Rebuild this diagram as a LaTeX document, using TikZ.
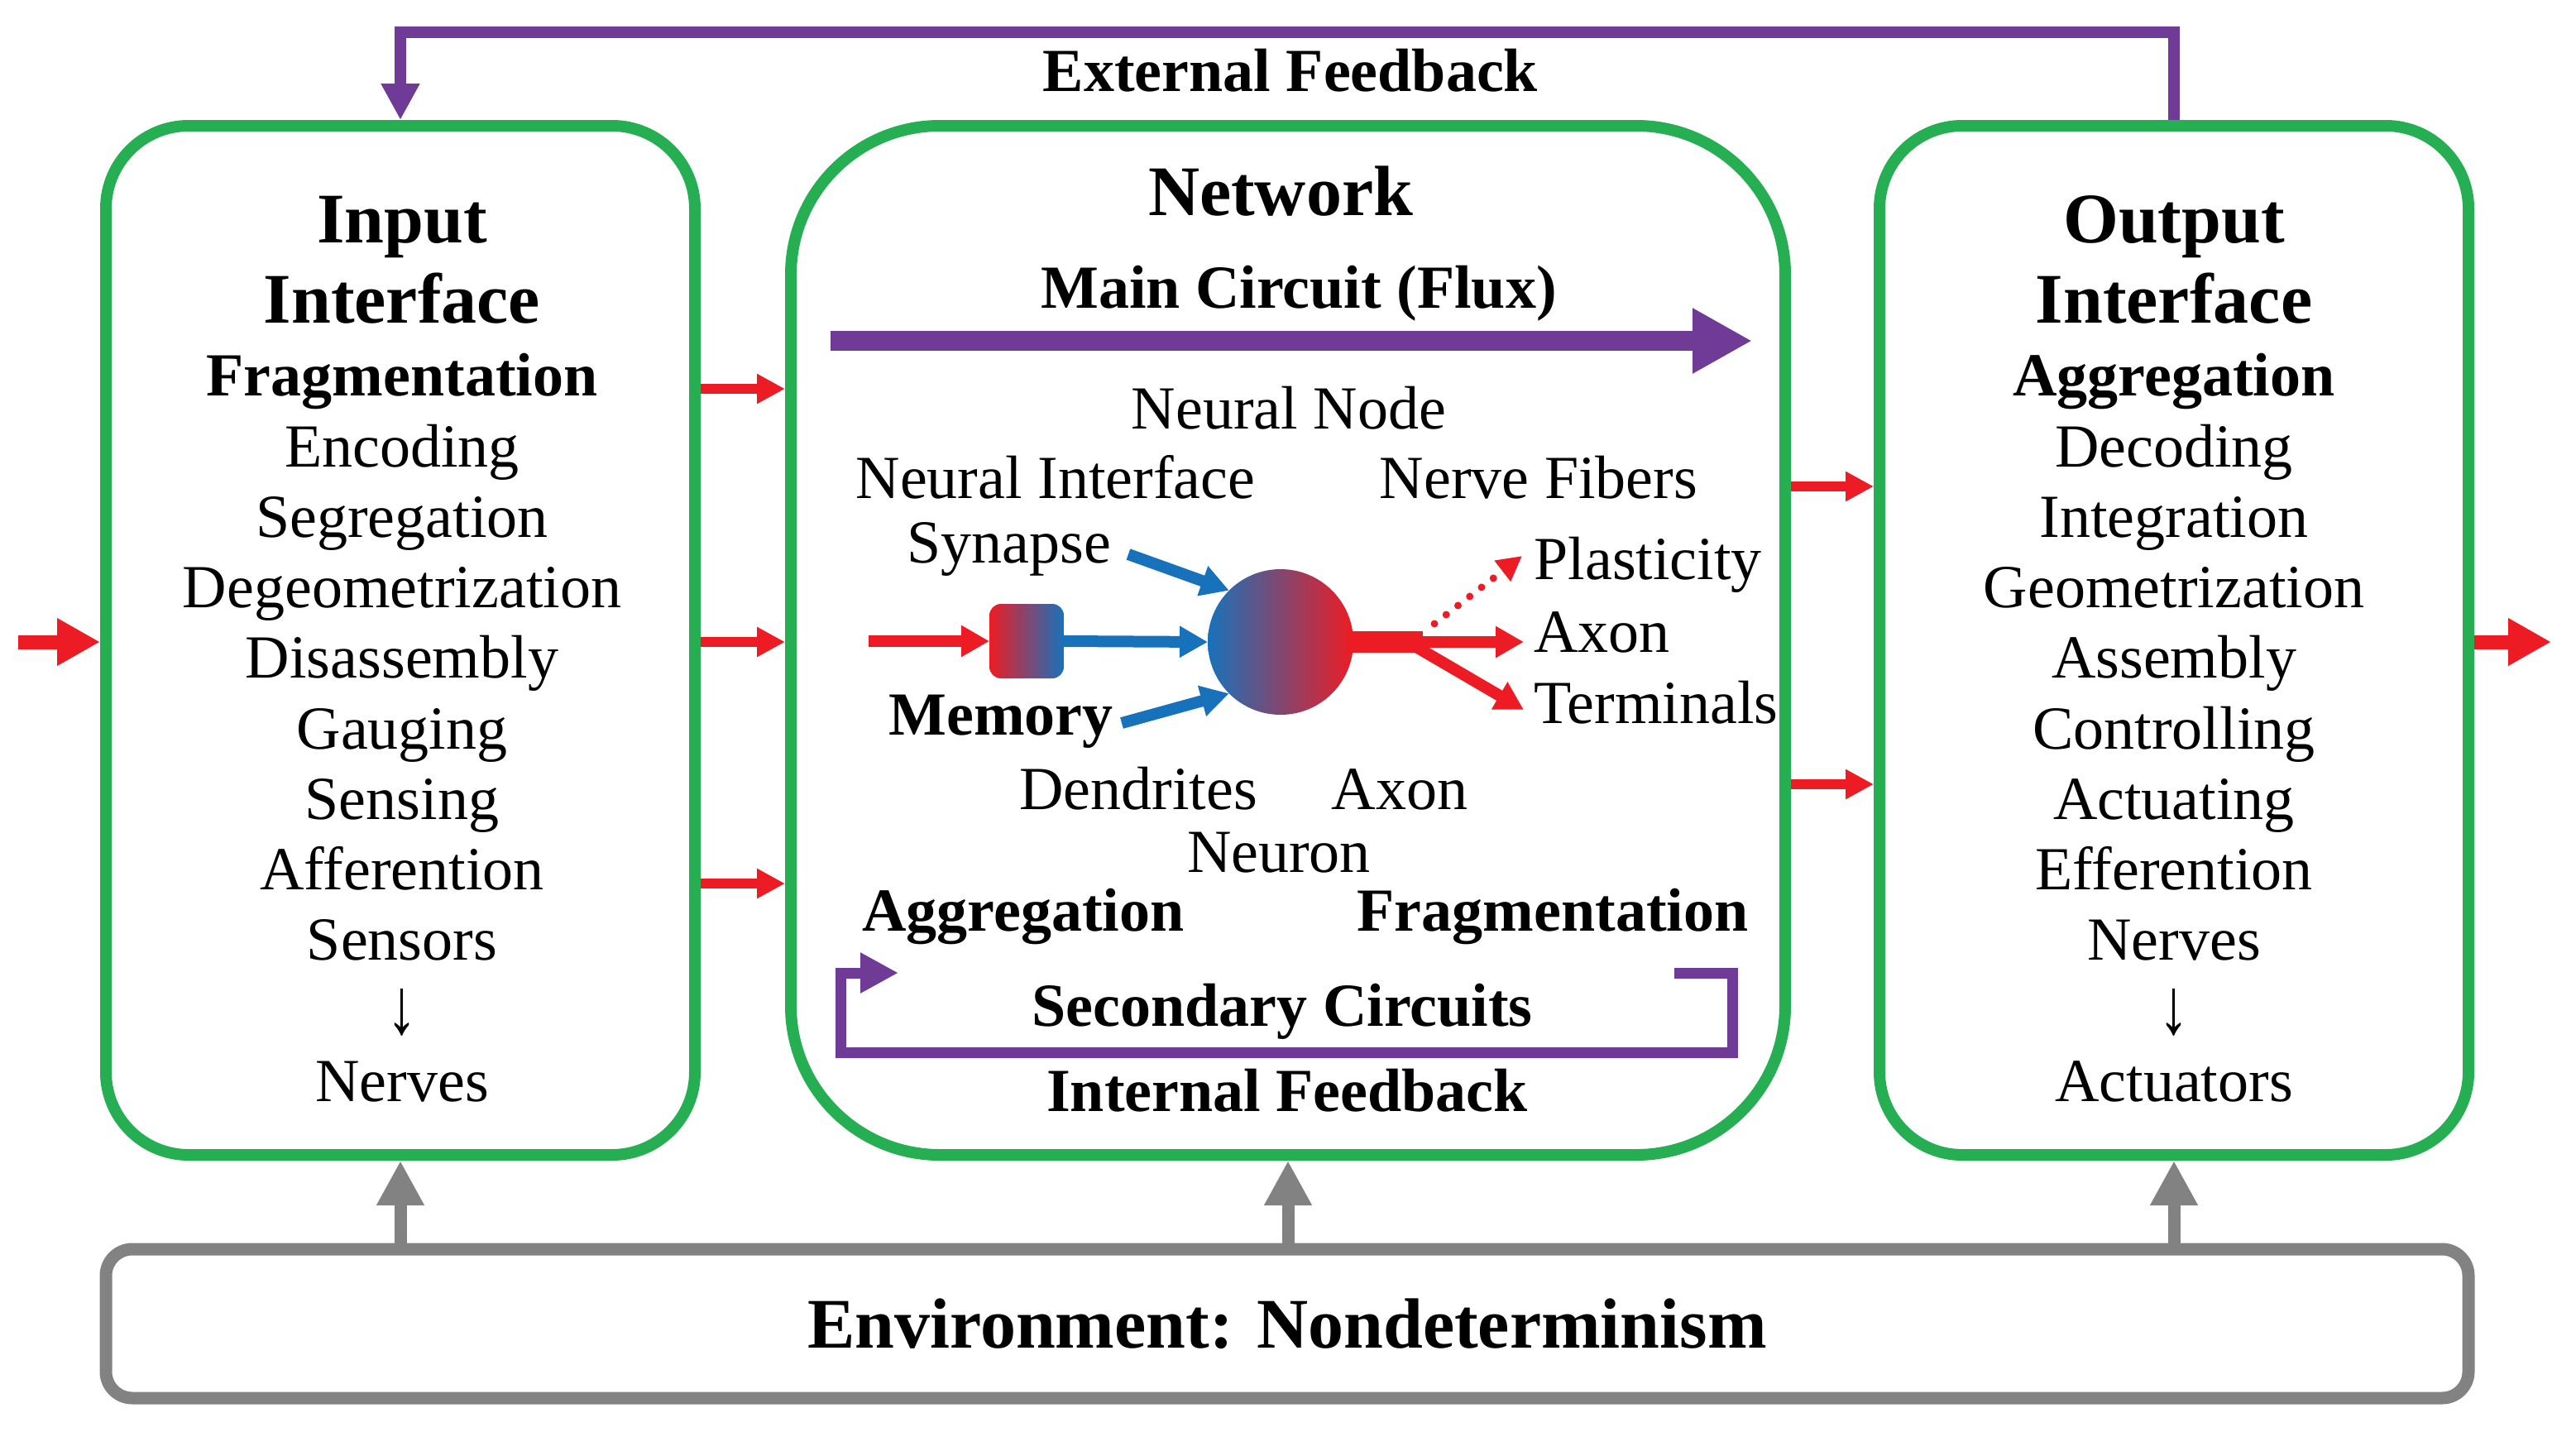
\documentclass[tikz,border=0pt]{standalone}
\usepackage{fontspec}
\setmainfont{Liberation Serif}
\usetikzlibrary{arrows.meta,calc}
\definecolor{gr}{RGB}{38,175,82}
\definecolor{pu}{RGB}{112,59,151}
\definecolor{rd}{RGB}{237,28,36}
\definecolor{bl}{RGB}{23,114,187}
\definecolor{gy}{RGB}{130,130,130}
\newcommand{\fsN}{\fontsize{37}{44}\selectfont}
\newcommand{\fsT}{\fontsize{43}{50}\selectfont}
\newcommand{\dnarrow}{\raisebox{-2pt}{\scalebox{1}[1.3]{↓}}}
\begin{document}
\begin{tikzpicture}[x=1pt,y=-1pt,
  gbox/.style={draw=gr, line width=7pt, outer sep=3.5pt, inner sep=0pt},
  envbox/.style={draw=gy, line width=7.5pt, outer sep=3.75pt, inner sep=0pt, rounded corners=16pt},
  txt/.style={font=\fsN, anchor=base, inner sep=0pt},
  btxt/.style={font=\fsN\bfseries, anchor=base, inner sep=0pt},
  ttxt/.style={font=\fsT\bfseries, anchor=base, inner sep=0pt},
  redarr/.style={draw=rd, line width=6pt, -{Triangle[length=17pt,width=17pt]}},
  bigred/.style={draw=rd, line width=8.5pt, -{Triangle[length=26pt,width=27pt]}},
  nred/.style={draw=rd, line width=7pt, -{Triangle[length=17pt,width=18pt]}},
  nblue/.style={draw=bl, line width=7pt, -{Triangle[length=17pt,width=18pt]}},
  dotred/.style={draw=rd, line width=4.5pt, line cap=round, dash pattern=on 0pt off 9pt, -{Triangle[length=15pt,width=15pt]}},
  grayarr/.style={draw=gy, line width=7.5pt, -{Triangle[length=27pt,width=27pt]}},
  fbarr/.style={draw=pu, line width=7pt, -{Triangle[length=22pt,width=22pt]}},
  mainarr/.style={draw=pu, line width=12pt, -{Triangle[length=36pt,width=37pt]}},
  secarr/.style={draw=pu, line width=6.5pt, -{Triangle[length=23pt,width=23pt]}},
]
\useasboundingbox (0,0) rectangle (1557,865);

% boxes
\node[gbox, minimum width=356pt, minimum height=622pt, rounded corners=50pt] (inp) at (242,387) {};
\node[gbox, minimum width=601pt, minimum height=622pt, rounded corners=90pt] (net) at (778.5,387) {};
\node[gbox, minimum width=356pt, minimum height=622pt, rounded corners=50pt] (out) at (1314,387) {};
\node[envbox, minimum width=1428pt, minimum height=90pt, font=\fsT\bfseries] (env) at (778,800) {Environment: Nondeterminism};

% input texts
\node[ttxt] (inT1) at (243,146.7) {Input};
\node[ttxt] (inT2) at (243,195) {Interface};
\node[btxt] (inT3) at (243,239) {Fragmentation};
\foreach \t [count=\i] in {Encoding,Segregation,Degeometrization,Disassembly,Gauging,Sensing,Afferention,Sensors,\dnarrow,Nerves}
  \node[txt] (in\i) at (243,{239.4+42.62*\i}) {\t};

% output texts
\node[ttxt] (outT1) at (1314,146.7) {Output};
\node[ttxt] (outT2) at (1314,195) {Interface};
\node[btxt] (outT3) at (1314,239) {Aggregation};
\foreach \t [count=\i] in {Decoding,Integration,Geometrization,Assembly,Controlling,Actuating,Efferention,Nerves,\dnarrow,Actuators}
  \node[txt] (out\i) at (1314,{239.4+42.62*\i}) {\t};

% network texts
\node[ttxt] (netT) at (774,130) {Network};
\node[btxt] (mainT) at (785,186) {Main Circuit (Flux)};
\node[txt] (nnode) at (779,259) {Neural Node};
\node[txt] (nint) at (638,301) {Neural Interface};
\node[txt] (nfib) at (930,301) {Nerve Fibers};
\node[txt] (syn) at (610,340) {Synapse};
\node[txt, anchor=base west] (plas) at (927,350) {Plasticity};
\node[txt, anchor=base west] (axon1) at (927,394) {Axon};
\node[txt, anchor=base west] (term) at (927,437) {Terminals};
\node[btxt] (memT) at (605,444) {Memory};
\node[txt] (dend) at (688,489) {Dendrites};
\node[txt] (axon2) at (846,489) {Axon};
\node[txt] (neurT) at (773,527) {Neuron};
\node[btxt] (aggT) at (618.5,562.5) {Aggregation};
\node[btxt] (fragT) at (938.5,562.5) {Fragmentation};
\node[btxt] (secT) at (775,620) {Secondary Circuits};
\node[btxt] (intT) at (778,671.5) {Internal Feedback};
\node[btxt] (extT) at (780,55) {External Feedback};

% main circuit arrow
\coordinate (mc1) at (502,206);
\coordinate (mc2) at (1059,206);
\draw[mainarr] (mc1) -- (mc2);

% neuron
\node[circle, minimum size=88pt, inner sep=0pt, outer sep=0pt, left color=bl, right color=rd] (neu) at (774,388) {};
\node[rectangle, rounded corners=7pt, minimum width=45pt, minimum height=45pt, inner sep=0pt, outer sep=0pt, left color=rd, right color=bl] (mem) at (620.5,387.5) {};
\coordinate (rin) at (525,387.5);
\draw[nred] (rin) -- (mem.west);
\draw[nblue] (mem.east) -- (neu.west);
\coordinate (syn0) at (682,335);
\coordinate (mem0) at (678,437);
\draw[nblue] (syn0) -- (neu.135);
\draw[nblue] (mem0) -- (neu.225);
\coordinate (ax0) at (860,388);
\draw[rd, line width=13pt] ([xshift=-3pt]neu.east) -- (ax0);
\coordinate (axs) at (856,388);
\coordinate (axt) at (921,388);
\draw[nred] (axs) -- (axt);
\coordinate (tms) at (856,391);
\coordinate (tmt) at (921,429);
\draw[nred] (tms) -- (tmt);
\coordinate (pls) at (867,377);
\coordinate (plt) at (920,336);
\draw[dotred] (pls) -- (plt);

% secondary circuits
\coordinate (sc1) at (1012,588);
\coordinate (scb1) at (1047,636);
\coordinate (scb2) at (508,588);
\coordinate (sc2) at (543,588);
\draw[secarr] (sc1) -| (scb1) -| (scb2) -- (sc2);

% external feedback
\coordinate (fbtop) at (778,19.5);
\draw[fbarr] (out.north) |- (fbtop) -| (inp.north);

% red flow arrows
\coordinate (lin) at (11,388);
\coordinate (rout) at (1542,388);
\draw[bigred] (lin) -- (inp.west |- lin);
\draw[bigred] (out.east |- rout) -- (rout);
\foreach \yy [count=\k] in {235,388,534} {
  \coordinate (ia\k) at (0,\yy);
  \draw[redarr] (inp.east |- ia\k) -- (net.west |- ia\k);
}
\foreach \yy [count=\k] in {294,474} {
  \coordinate (oa\k) at (0,\yy);
  \draw[redarr] (net.east |- oa\k) -- (out.west |- oa\k);
}

% gray environment arrows
\draw[grayarr] (inp.south |- env.north) -- (inp.south);
\draw[grayarr] (net.south |- env.north) -- (net.south);
\draw[grayarr] (out.south |- env.north) -- (out.south);
\end{tikzpicture}
\end{document}
